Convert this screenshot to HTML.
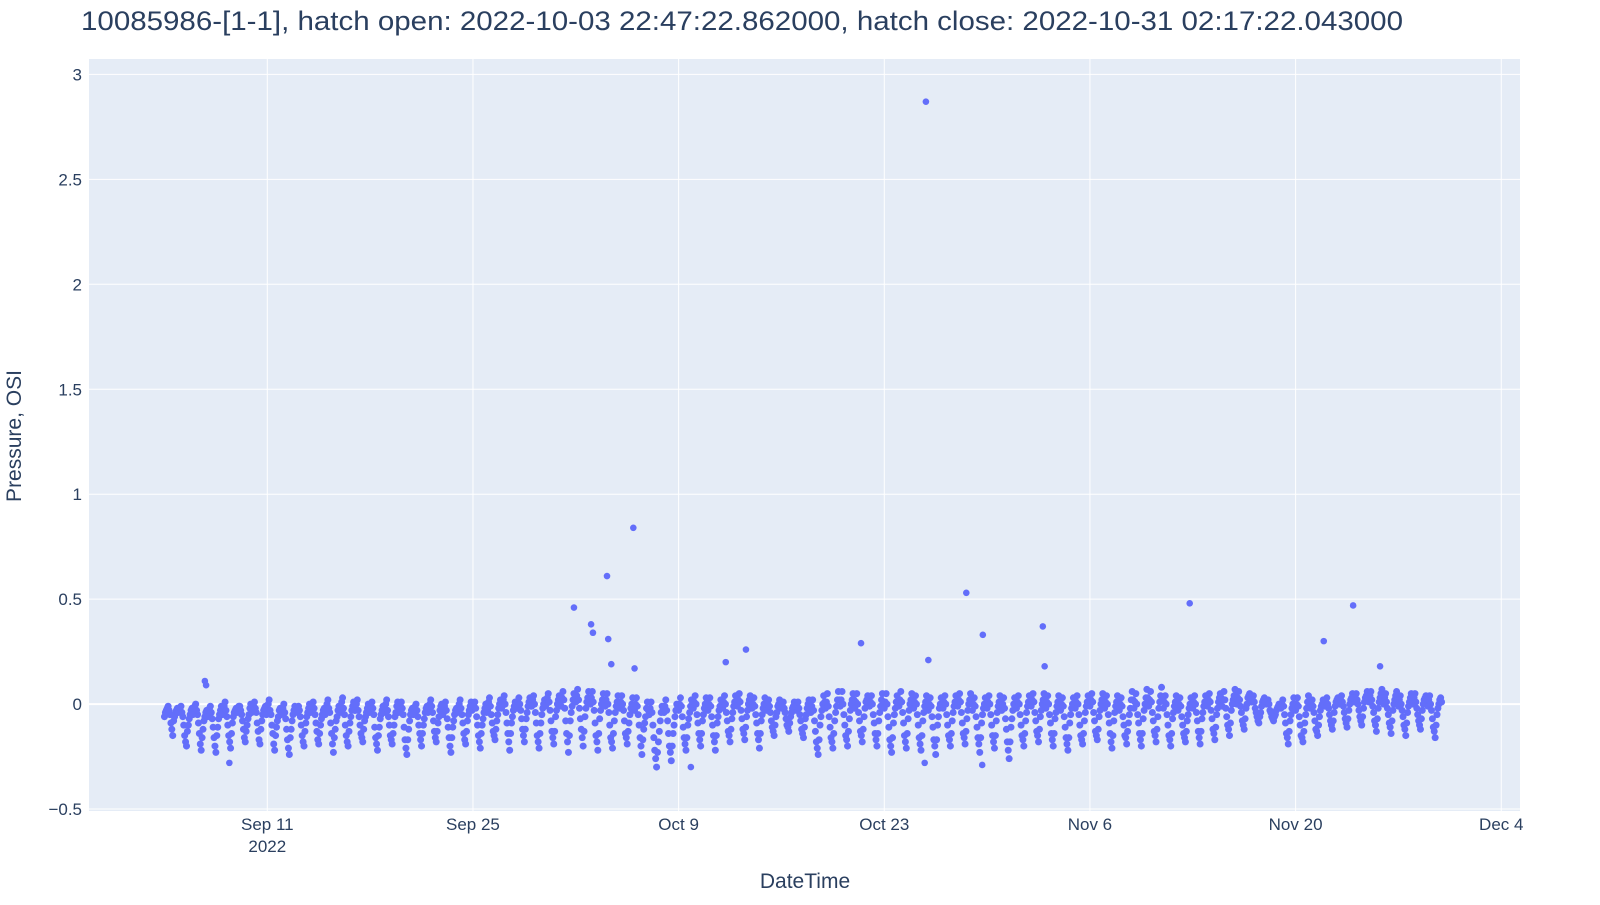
<!DOCTYPE html>
<html><head><meta charset="utf-8"><style>
body{margin:0;background:#fff;font-family:"Liberation Sans",sans-serif}
svg text{font-family:"Liberation Sans",sans-serif;fill:#2a3f5f}
</style></head><body>
<svg id="chart" width="1600" height="900">
<text x="81" y="30" font-size="27" textLength="1322" lengthAdjust="spacingAndGlyphs">10085986-[1-1], hatch open: 2022-10-03 22:47:22.862000, hatch close: 2022-10-31 02:17:22.043000</text>
<rect x="89" y="59" width="1431" height="752" fill="#e5ecf6"/>
<g id="grid"></g>
<g id="marks"></g>
<g id="axes"></g>
<text x="805" y="888" font-size="21" text-anchor="middle">DateTime</text>
<text transform="translate(21,436) rotate(-90)" font-size="21" text-anchor="middle">Pressure, OSI</text>
</svg>
<script>
const xTickDates=["2022-09-11","2022-09-25","2022-10-09","2022-10-23","2022-11-06","2022-11-20","2022-12-04"];
const xTickLabels=["Sep 11","Sep 25","Oct 9","Oct 23","Nov 6","Nov 20","Dec 4"];
const yTicks=[-0.5,0,0.5,1,1.5,2,2.5,3];
const yTickLabels=["\u22120.5","0","0.5","1","1.5","2","2.5","3"];
const seriesStart="2022-09-04T00:00:00";
const stepHours=3;
const pressure=[
-.06,-.03,-.01,-.05,-.12,-.08,-.04,-.02, -.03,-.01,-.06,-.15,-.20,-.10,-.05,-.02, -.02,0,-.05,-.14,-.22,-.12,-.06,-.03, -.04,-.01,-.07,-.16,-.23,-.11,-.05,-.01,
-.03,.01,-.06,-.15,-.21,-.09,-.04,-.02, -.02,-.01,-.05,-.12,-.18,-.10,-.05,0, -.03,.01,-.04,-.13,-.19,-.08,-.03,-.01, -.02,.02,-.05,-.14,-.22,-.11,-.06,-.02,
-.04,0,-.07,-.17,-.24,-.12,-.05,-.01, -.03,-.01,-.06,-.15,-.20,-.09,-.04,0, -.02,.01,-.05,-.13,-.19,-.10,-.05,-.02, -.03,.02,-.04,-.14,-.23,-.12,-.06,-.01,
-.02,.03,-.05,-.15,-.20,-.09,-.03,.01, -.03,.02,-.06,-.14,-.18,-.08,-.04,0, -.02,.01,-.05,-.16,-.22,-.11,-.05,-.01, -.03,.02,-.06,-.15,-.19,-.10,-.04,.01,
-.02,.01,-.05,-.17,-.24,-.12,-.05,-.02, -.03,0,-.06,-.14,-.20,-.10,-.04,-.01, -.02,.02,-.04,-.13,-.18,-.09,-.03,0, -.04,.01,-.07,-.16,-.23,-.11,-.05,-.02,
-.03,.02,-.05,-.14,-.19,-.08,-.03,.01, -.02,.01,-.06,-.15,-.21,-.10,-.04,0, -.03,.03,-.05,-.13,-.17,-.08,-.02,.02, -.01,.04,-.04,-.14,-.22,-.09,-.03,.01,
-.02,.03,-.03,-.12,-.18,-.07,-.01,.03, -.01,.04,-.04,-.15,-.21,-.09,-.02,.02, 0,.05,-.03,-.13,-.19,-.06,0,.04, -.01,.06,-.02,-.14,-.23,-.08,-.01,.05,
.01,.07,-.02,-.12,-.20,-.06,.01,.06, 0,.06,-.03,-.15,-.22,-.07,0,.05, -.01,.05,-.04,-.16,-.21,-.08,-.01,.04, -.02,.04,-.03,-.14,-.19,-.09,-.02,.03,
-.03,.03,-.05,-.16,-.24,-.12,-.06,.01, -.05,.01,-.10,-.22,-.30,-.18,-.08,-.01, -.04,.02,-.08,-.20,-.27,-.14,-.06,0, -.03,.03,-.06,-.16,-.22,-.10,-.04,.02,
-.02,.04,-.05,-.14,-.20,-.08,-.02,.03, -.03,.03,-.06,-.15,-.22,-.09,-.03,.02, -.02,.04,-.04,-.13,-.18,-.07,-.01,.04, -.01,.05,-.03,-.12,-.17,-.06,0,.04,
-.02,.03,-.05,-.14,-.21,-.08,-.02,.03, -.03,.02,-.04,-.11,-.15,-.06,-.01,.02, -.02,.01,-.04,-.10,-.13,-.06,-.02,.01, -.03,.01,-.05,-.12,-.16,-.07,-.02,.02,
-.04,.02,-.08,-.18,-.24,-.10,-.03,.04, -.02,.05,-.06,-.16,-.21,-.08,-.01,.06, -.01,.06,-.05,-.15,-.20,-.07,0,.05, -.02,.05,-.04,-.13,-.18,-.06,.01,.04,
-.01,.04,-.05,-.14,-.20,-.08,-.01,.05, -.02,.05,-.06,-.17,-.23,-.09,-.02,.04, -.01,.06,-.04,-.15,-.21,-.07,0,.05, -.02,.04,-.05,-.16,-.22,-.08,-.01,.04,
-.03,.03,-.06,-.17,-.24,-.10,-.02,.03, -.02,.04,-.05,-.15,-.20,-.08,-.01,.04, -.01,.05,-.04,-.14,-.19,-.07,0,.05, -.03,.03,-.06,-.16,-.23,-.09,-.02,.03,
-.02,.04,-.05,-.15,-.21,-.08,-.01,.04, -.03,.03,-.07,-.18,-.26,-.11,-.03,.03, -.02,.04,-.05,-.15,-.20,-.08,-.01,.04, -.01,.05,-.04,-.13,-.18,-.06,0,.05,
-.02,.04,-.05,-.14,-.20,-.07,-.01,.04, -.03,.03,-.06,-.16,-.22,-.09,-.02,.03, -.02,.04,-.05,-.15,-.19,-.08,-.01,.04, -.01,.05,-.04,-.13,-.17,-.06,0,.05,
-.02,.04,-.05,-.14,-.21,-.08,-.01,.04, -.03,.03,-.06,-.15,-.19,-.09,-.02,.06, -.02,.05,-.05,-.14,-.20,-.07,0,.07, -.01,.06,-.04,-.13,-.18,-.06,.01,.08,
-.02,.04,-.05,-.15,-.20,-.07,-.01,.04, -.03,.03,-.06,-.14,-.18,-.08,-.02,.03, -.02,.04,-.04,-.13,-.19,-.07,-.01,.04, -.01,.05,-.03,-.12,-.17,-.05,.01,.05,
-.01,.06,-.02,-.10,-.15,-.03,.02,.07, 0,.06,-.01,-.08,-.12,-.02,.03,.05, .01,.04,-.02,-.06,-.09,-.04,.01,.03, 0,.02,-.03,-.06,-.08,-.05,-.02,0,
-.02,.02,-.05,-.14,-.19,-.08,-.02,.03, -.03,.03,-.06,-.15,-.18,-.09,-.02,.04, -.02,.02,-.04,-.12,-.15,-.06,-.01,.02, -.01,.03,-.02,-.08,-.12,-.04,.01,.03,
0,.04,-.01,-.07,-.11,-.03,.02,.05, .01,.05,0,-.06,-.10,-.02,.03,.06, .01,.06,-.01,-.08,-.13,-.02,.03,.07, 0,.05,-.02,-.09,-.14,-.03,.02,.06,
-.01,.04,-.03,-.10,-.15,-.04,.01,.05, 0,.05,-.02,-.08,-.12,-.03,.02,.04, -.01,.04,-.03,-.11,-.16,-.05,0,.03
];
const pressureHalf=[
-.04,-.02,-.03,-.09,-.15,-.06,-.03,-.04, -.02,-.04,-.10,-.18,-.13,-.07,-.03,-.05, -.01,-.03,-.09,-.19,-.16,-.08,-.04,-.06, -.02,-.04,-.11,-.20,-.15,-.07,-.03,-.05,
-.01,-.03,-.10,-.18,-.14,-.06,-.03,-.04, -.01,-.03,-.08,-.16,-.13,-.07,-.02,-.04, -.01,-.02,-.09,-.17,-.12,-.05,-.02,-.05, 0,-.03,-.10,-.19,-.15,-.08,-.03,-.05,
-.02,-.04,-.12,-.21,-.16,-.08,-.03,-.04, -.02,-.03,-.10,-.18,-.13,-.06,-.02,-.04, -.01,-.02,-.09,-.17,-.14,-.07,-.03,-.05, 0,-.02,-.09,-.19,-.16,-.08,-.03,-.04,
.01,-.02,-.10,-.18,-.13,-.06,-.01,-.03, 0,-.03,-.10,-.16,-.12,-.06,-.02,-.04, -.01,-.02,-.11,-.19,-.15,-.07,-.03,-.04, 0,-.03,-.10,-.17,-.14,-.06,-.01,-.04,
-.01,-.02,-.11,-.21,-.17,-.08,-.03,-.05, -.01,-.03,-.10,-.17,-.14,-.07,-.02,-.04, 0,-.01,-.08,-.16,-.13,-.06,-.01,-.05, -.01,-.03,-.11,-.20,-.16,-.08,-.03,-.04,
0,-.02,-.09,-.17,-.13,-.05,-.01,-.03, -.01,-.02,-.10,-.18,-.14,-.07,-.02,-.04, .01,-.01,-.09,-.15,-.12,-.05,0,-.02, .02,0,-.09,-.18,-.14,-.06,-.01,-.02,
.01,0,-.07,-.15,-.12,-.04,.01,-.01, .02,0,-.09,-.18,-.14,-.05,0,-.01, .03,.01,-.08,-.16,-.13,-.03,.02,0, .03,.02,-.08,-.18,-.15,-.04,.02,.02,
.04,.02,-.07,-.16,-.13,-.02,.03,.02, .03,.01,-.09,-.18,-.14,-.03,.02,.01, .02,0,-.10,-.18,-.14,-.04,.01,0, .01,0,-.08,-.16,-.13,-.05,0,-.01,
0,-.01,-.10,-.20,-.17,-.09,-.02,-.03, -.02,-.04,-.16,-.26,-.23,-.13,-.04,-.02, -.01,-.03,-.14,-.23,-.20,-.10,-.03,-.01, 0,-.01,-.11,-.19,-.16,-.07,-.01,0,
.01,0,-.09,-.17,-.14,-.05,0,.01, 0,-.01,-.10,-.18,-.15,-.06,-.01,0, .01,0,-.08,-.15,-.12,-.04,.01,.01, .02,.01,-.07,-.14,-.11,-.03,.02,.01,
0,-.01,-.09,-.17,-.14,-.05,0,0, 0,-.01,-.08,-.13,-.10,-.04,0,0, -.01,-.02,-.07,-.11,-.09,-.04,-.01,-.01, -.01,-.02,-.08,-.14,-.11,-.05,0,-.01,
-.01,-.03,-.13,-.21,-.17,-.06,0,.01, .01,-.01,-.11,-.18,-.14,-.04,.02,.02, .02,0,-.10,-.17,-.13,-.03,.02,.02, .01,0,-.08,-.15,-.12,-.02,.02,.01,
.01,0,-.09,-.17,-.14,-.04,.02,.01, .01,0,-.11,-.20,-.16,-.05,.01,.01, .02,.01,-.09,-.18,-.14,-.03,.02,.01, .01,0,-.10,-.19,-.15,-.04,.01,0,
0,-.01,-.11,-.20,-.17,-.06,0,0, .01,0,-.10,-.17,-.14,-.04,.01,.01, .02,.01,-.09,-.16,-.13,-.03,.02,.01, 0,-.01,-.11,-.19,-.16,-.05,0,0,
.01,0,-.10,-.18,-.15,-.04,.01,.01, 0,-.02,-.12,-.22,-.18,-.07,0,0, .01,0,-.10,-.17,-.14,-.04,.01,.01, .02,.01,-.08,-.15,-.12,-.03,.02,.02,
.01,0,-.09,-.17,-.14,-.04,.01,.01, 0,-.01,-.11,-.19,-.16,-.05,0,0, .01,0,-.10,-.17,-.14,-.04,.01,.01, .02,.01,-.08,-.15,-.12,-.03,.02,.02,
.01,0,-.09,-.18,-.15,-.04,.01,.01, 0,-.01,-.10,-.16,-.13,-.05,.02,.02, .01,0,-.09,-.17,-.14,-.03,.03,.03, .02,.01,-.08,-.15,-.12,-.02,.04,.03,
.01,0,-.10,-.17,-.14,-.04,.01,.01, 0,-.01,-.10,-.16,-.13,-.05,0,0, .01,0,-.08,-.16,-.13,-.04,.01,.01, .02,.01,-.07,-.14,-.11,-.02,.03,.03,
.02,.02,-.06,-.12,-.09,0,.04,.03, .03,.02,-.04,-.10,-.07,0,.04,.02, .02,.01,-.04,-.08,-.06,-.01,.02,.01, .01,0,-.04,-.07,-.06,-.03,-.01,-.01,
0,-.01,-.09,-.16,-.13,-.05,0,0, 0,-.01,-.10,-.16,-.13,-.05,.01,.01, 0,-.01,-.08,-.13,-.10,-.03,0,0, .01,0,-.05,-.10,-.08,-.01,.02,.01,
.02,.01,-.04,-.09,-.07,0,.03,.03, .03,.02,-.03,-.08,-.06,.01,.04,.03, .04,.02,-.04,-.10,-.07,.01,.05,.03, .03,.01,-.05,-.11,-.08,0,.04,.02,
.02,0,-.06,-.12,-.09,-.01,.03,.02, .03,.01,-.05,-.10,-.07,0,.03,.02, .02,0,-.07,-.13,-.10,-.02,.02,.01
];
const outlierDates=["2022-10-01T21:00","2022-10-03T01:00","2022-10-03T04:00","2022-10-04T03:00","2022-10-04T05:00","2022-10-04T10:00","2022-10-05T22:00","2022-10-06T00:00","2022-10-12T05:00","2022-10-13T14:00","2022-10-21T10:00","2022-10-25T20:00","2022-10-26T00:00","2022-10-28T14:00","2022-10-29T17:00","2022-11-02T19:00","2022-11-02T22:00","2022-11-12T19:00","2022-11-21T22:00","2022-11-23T22:00","2022-11-25T18:00","2022-09-08T10:00","2022-10-09T20:00","2022-10-29T16:00","2022-10-25T18:00","2022-09-06T18:00","2022-09-06T20:00"];
const outlierValues=[0.46,0.38,0.34,0.61,0.31,0.19,0.84,0.17,0.20,0.26,0.29,2.87,0.21,0.53,0.33,0.37,0.18,0.48,0.30,0.47,0.18,-0.28,-0.30,-0.29,-0.28,0.11,0.09];

const NS="http://www.w3.org/2000/svg";
const X0=Date.parse("2022-09-11T00:00:00"),PX0=267.3,PXD=14.69;
function xs(d){return PX0+(Date.parse(d)-X0)/86400000*PXD;}
function xsMs(ms){return PX0+(ms-X0)/86400000*PXD;}
function ys(v){return 704.1-v*209.9;}
function mk(tag,attrs,parent){const e=document.createElementNS(NS,tag);for(const k in attrs)e.setAttribute(k,attrs[k]);parent.appendChild(e);return e;}
const grid=document.getElementById('grid'),axes=document.getElementById('axes'),marks=document.getElementById('marks');
yTicks.forEach((v,i)=>{
  const l=mk('line',{x1:89,x2:1520,y1:ys(v),y2:ys(v),stroke:'#fff','stroke-width':v===0?2:1},grid);
  
  
  const t=mk('text',{x:82,y:ys(v)+6,'text-anchor':'end','font-size':17},axes);
  t.textContent=yTickLabels[i];
  
  
});
xTickDates.forEach((d,i)=>{
  const x=xs(d+"T00:00:00");
  const l=mk('line',{x1:x,x2:x,y1:59,y2:811,stroke:'#fff','stroke-width':1},grid);
  
  
  const t=mk('text',{x:x,y:830,'text-anchor':'middle','font-size':17},axes);
  t.textContent=xTickLabels[i];
  
  
});
const yr=mk('text',{x:xs("2022-09-11T00:00:00"),y:852,'text-anchor':'middle','font-size':17},axes);
yr.textContent="2022";


const s0=Date.parse(seriesStart);
pressure.forEach((v,i)=>{
  const c=mk('circle',{cx:xsMs(s0+i*stepHours*3600000),cy:ys(v),r:3.5,fill:'#636efa'},marks);
  
  
});
pressureHalf.forEach((v,i)=>{
  const c=mk('circle',{cx:xsMs(s0+(i+0.5)*stepHours*3600000),cy:ys(v),r:3.5,fill:'#636efa'},marks);
  
  
});
outlierDates.forEach((d,i)=>{
  const c=mk('circle',{cx:xs(d),cy:ys(outlierValues[i]),r:3.3,fill:'#636efa'},marks);
  
  
});
</script>
</body></html>
